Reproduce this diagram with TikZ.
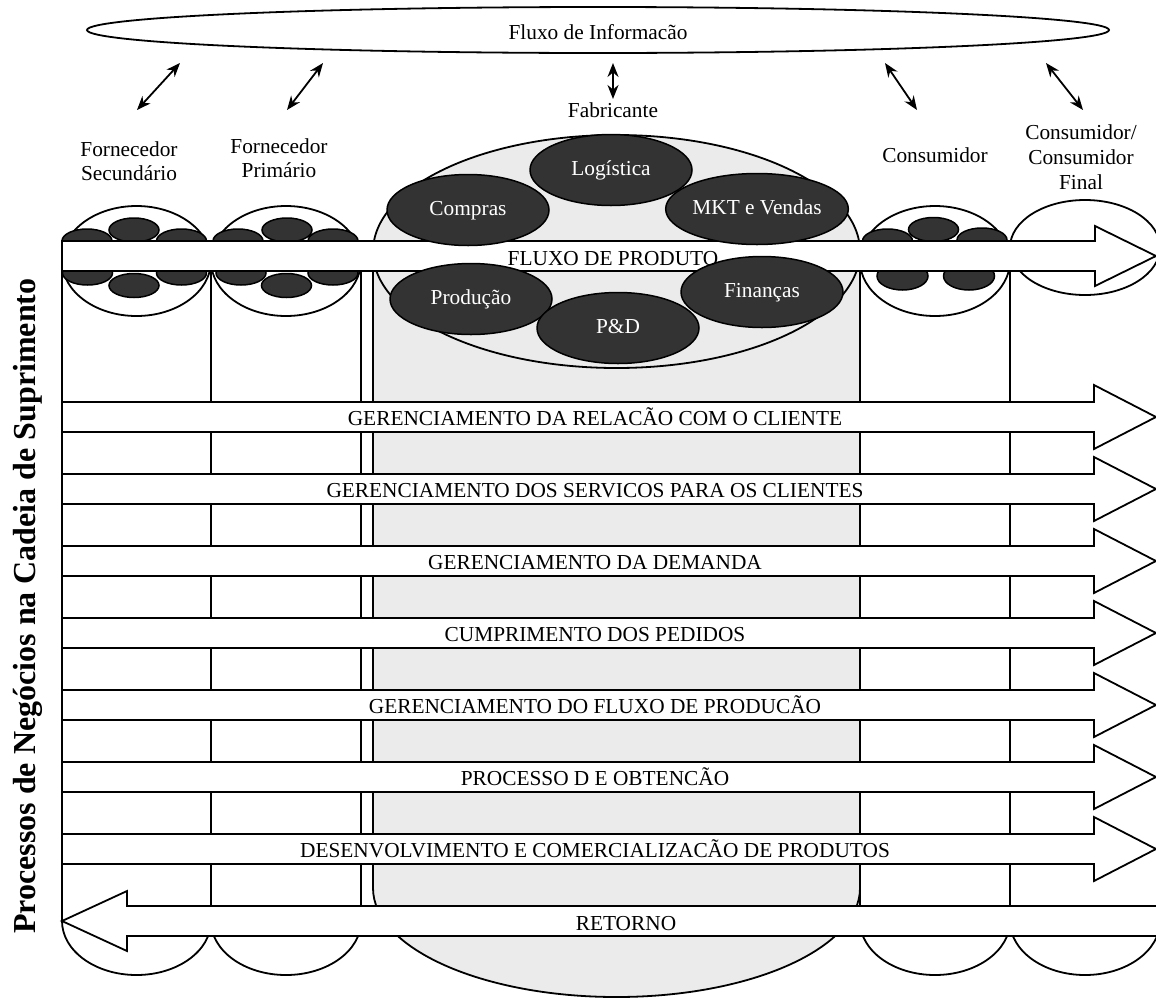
\documentclass[tikz,border=0pt]{standalone}
\usepackage{fontspec}
\setmainfont{Liberation Serif}
\usetikzlibrary{shapes.geometric,arrows.meta}
\definecolor{inkdark}{HTML}{333333}
\definecolor{plantgray}{HTML}{EBEBEB}
% block arrow pointing right, #1 = vertical centre of its body
\newcommand{\fwdblock}[1]{%
  \draw[blk] (62,#1-15) -- (1094,#1-15) -- (1094,#1-32) -- (1156,#1)
    -- (1094,#1+32) -- (1094,#1+15) -- (62,#1+15) -- cycle;}
\begin{document}
\begin{tikzpicture}[x=1pt,y=-1pt,
  outl/.style={draw=black,line width=1.8pt},
  blk/.style={outl,fill=white,line join=miter},
  txt/.style={font=\fontsize{21.33}{24}\selectfont,inner sep=0pt},
  hdr/.style={txt,align=center},
  pod/.style={ellipse,draw=black,line width=1.5pt,fill=inkdark,inner sep=0pt,
    minimum width=50pt,minimum height=24pt},
  dept/.style={ellipse,draw=black,line width=1.5pt,fill=inkdark,inner sep=0pt,
    minimum width=162pt,minimum height=71pt,text=white,
    font=\fontsize{21.33}{24}\selectfont,text height=14pt,text depth=4pt},
  link/.style={line width=1.8pt,
    {Stealth[length=14pt,width=11pt]}-{Stealth[length=14pt,width=11pt]}}
]
\useasboundingbox (0,0) rectangle (1156,999);
\clip (0,0) rectangle (1156,999);

% manufacturer cylinder
\fill[plantgray] (373,251.5) rectangle (860,888);
\fill[plantgray] (616.5,251.5) ellipse [x radius=243.5,y radius=116.5];
\fill[plantgray] (616.5,888) ellipse [x radius=243.5,y radius=109];
\draw[outl] (616.5,251.5) ellipse [x radius=243.5,y radius=116.5];
\draw[outl] (373,251.5) -- (373,888);
\draw[outl] (860,251.5) -- (860,888);
\begin{scope}
  \clip (300,888) rectangle (900,1010);
  \draw[outl] (616.5,888) ellipse [x radius=243.5,y radius=109];
\end{scope}

% supplier and customer columns
\draw[outl,fill=white] (136.5,261) ellipse [x radius=74.5,y radius=55];
\draw[outl,fill=white] (286,261) ellipse [x radius=75,y radius=55];
\draw[outl,fill=white] (935,261) ellipse [x radius=75,y radius=55];
\draw[outl,fill=white] (1085,247.5) ellipse [x radius=75,y radius=47.5];
\draw[outl] (62,261) -- (62,921);
\draw[outl] (211,261) -- (211,921);
\draw[outl] (361,261) -- (361,921);
\draw[outl] (860,261) -- (860,921);
\draw[outl] (1010,261) -- (1010,921);
\draw[outl] (1160,247.5) -- (1160,921);
\begin{scope}
  \clip (0,921) rectangle (1200,1010);
  \draw[outl] (136.5,921) ellipse [x radius=74.5,y radius=54];
  \draw[outl] (286,921) ellipse [x radius=75,y radius=54];
  \draw[outl] (935,921) ellipse [x radius=75,y radius=54];
  \draw[outl] (1085,921) ellipse [x radius=75,y radius=54];
\end{scope}

% small units inside the columns
\node[pod] (s1a) at (87,241) {};
\node[pod] (s1b) at (134,230) {};
\node[pod] (s1c) at (181.5,241) {};
\node[pod] (s1d) at (87.5,273) {};
\node[pod] (s1e) at (134,285.5) {};
\node[pod] (s1f) at (181.5,273) {};
\node[pod] (s2a) at (238,241) {};
\node[pod] (s2b) at (287,230) {};
\node[pod] (s2c) at (333,241) {};
\node[pod] (s2d) at (241,273) {};
\node[pod] (s2e) at (286.5,285.5) {};
\node[pod] (s2f) at (333,273) {};
\node[pod] (c1a) at (887.5,241) {};
\node[pod] (c1b) at (933.5,229.5) {};
\node[pod] (c1c) at (982,240) {};
\node[pod,minimum width=51pt,minimum height=28pt] (c1d) at (902.5,276) {};
\node[pod,minimum width=51pt,minimum height=28pt] (c1e) at (969,276) {};

% product flow
\draw[blk] (62,241) -- (1095,241) -- (1095,226) -- (1156,256) -- (1095,286)
  -- (1095,271) -- (62,271) -- cycle;

% manufacturer functions
\node[dept] (log) at (611,170) {Logística};
\node[dept] (comp) at (468,210) {Compras};
\node[dept] (mkt) at (757,209) {MKT e Vendas};
\node[dept] (prod) at (471,299) {Produção};
\node[dept] (ped) at (618,328) {P\&D};
\node[dept] (fin) at (762,292) {Finanças};
\node[txt,anchor=base] (fluxo) at (613,265) {FLUXO DE PRODUTO};

% business process arrows
\fwdblock{417}
\fwdblock{489}
\fwdblock{561}
\fwdblock{633}
\fwdblock{705}
\fwdblock{777}
\fwdblock{849}
\draw[blk] (1170,906) -- (127,906) -- (127,891) -- (62,921) -- (127,951)
  -- (127,936) -- (1170,936);

\node[txt,anchor=base] (p1) at (595,425) {GERENCIAMENTO DA RELACÃO COM O CLIENTE};
\node[txt,anchor=base] (p2) at (595,497) {GERENCIAMENTO DOS SERVICOS PARA OS CLIENTES};
\node[txt,anchor=base] (p3) at (595,569) {GERENCIAMENTO DA DEMANDA};
\node[txt,anchor=base] (p4) at (595,641) {CUMPRIMENTO DOS PEDIDOS};
\node[txt,anchor=base] (p5) at (595,713) {GERENCIAMENTO DO FLUXO DE PRODUCÃO};
\node[txt,anchor=base] (p6) at (595,785) {PROCESSO D E OBTENCÃO};
\node[txt,anchor=base] (p7) at (595,857) {DESENVOLVIMENTO E COMERCIALIZACÃO DE PRODUTOS};
\node[txt,anchor=base] (p8) at (626,930) {RETORNO};

% side title
\node[font=\fontsize{32}{38}\selectfont\bfseries,rotate=90,anchor=base,inner sep=0pt]
  (side) at (35,606) {Processos de Negócios na Cadeia de Suprimento};

% information flow
\node[ellipse,draw=black,line width=1.8pt,minimum width=1022pt,minimum height=46pt,
  inner sep=0pt] (info) at (598,30) {};
\node[txt,anchor=base] (infot) at (598,39) {Fluxo de Informacão};

% members of the chain (base anchor sits on the last line)
\node[hdr,anchor=base] (fsec) at (129,180) {Fornecedor\\Secundário};
\node[hdr,anchor=base] (fpri) at (279,177) {Fornecedor\\Primário};
\node[txt,anchor=base] (fab) at (613,117) {Fabricante};
\node[txt,anchor=base] (cons) at (935,162) {Consumidor};
\node[hdr,anchor=base,font=\fontsize{21.33}{25}\selectfont] (cfin) at (1081,189)
  {Consumidor/\\Consumidor\\Final};

% information exchange
\coordinate (a1s) at (137,110); \coordinate (a1e) at (180,63);
\coordinate (a2s) at (287,110); \coordinate (a2e) at (323,63);
\coordinate (a3s) at (613,99);  \coordinate (a3e) at (613,63);
\coordinate (a4s) at (917,110); \coordinate (a4e) at (885,63);
\coordinate (a5s) at (1083,110); \coordinate (a5e) at (1046,63);
\draw[link] (a1s) -- (a1e);
\draw[link] (a2s) -- (a2e);
\draw[link] (a3s) -- (a3e);
\draw[link] (a4s) -- (a4e);
\draw[link] (a5s) -- (a5e);
\end{tikzpicture}
\end{document}
